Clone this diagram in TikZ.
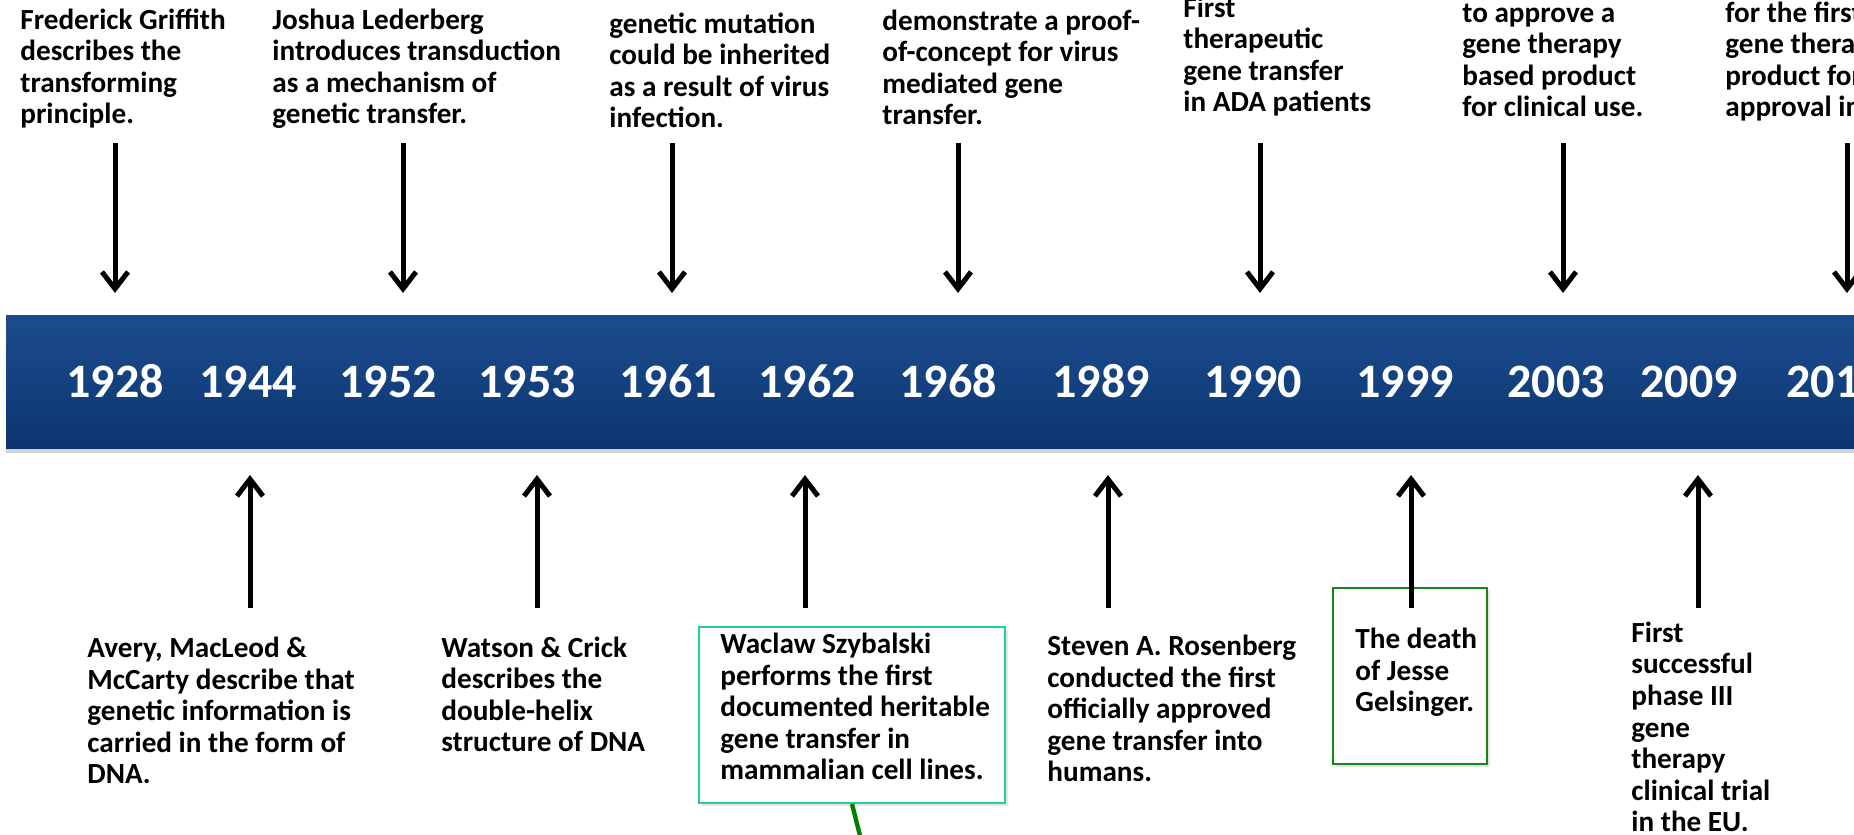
\documentclass[tikz,border=0pt]{standalone}
\usepackage{fontspec}
\setmainfont{Carlito}
\usetikzlibrary{arrows.meta, shadows}

\definecolor{bandtop}{RGB}{28,76,142}
\definecolor{bandbottom}{RGB}{12,53,112}
\definecolor{tealline}{RGB}{36,204,150}
\definecolor{greenline}{RGB}{20,138,20}
\definecolor{linkgreen}{RGB}{0,128,0}

\begin{document}
\begin{tikzpicture}[x=0.5pt, y=0.5pt,
        event/.style={anchor=base west, align=left, inner sep=0pt, font=\bfseries\fontsize{14.6}{15.8}\selectfont},
        year/.style={anchor=base, text=white, inner sep=0pt, font=\bfseries\fontsize{24}{24}\selectfont},
        arrow/.style={-{Straight Barb[length=8.5pt, width=13pt]}, line width=2.5pt},
        frame/.style={draw, line width=1pt, fill=white, inner sep=0pt, minimum height=88pt, drop shadow={opacity=0.2, shadow xshift=1.5pt, shadow yshift=-1.5pt}}
    ]
    \useasboundingbox (0,0) rectangle (1854,835);
    \clip (0,0) rectangle (1854,835);
    \fill[white] (0,0) rectangle (1854,835);

    % band with the years
    \node[inner sep=0pt, minimum width=932pt, minimum height=66.5pt, top color=bandtop, bottom color=bandbottom, drop shadow={opacity=0.35, shadow xshift=0pt, shadow yshift=-2pt}] (band) at (938,452.5) {};
    \node[year] (y1928) at (115,437) {1928};
    \node[year] (y1944) at (248,437) {1944};
    \node[year] (y1952) at (388,437) {1952};
    \node[year] (y1953) at (527,437) {1953};
    \node[year] (y1961) at (668,437) {1961};
    \node[year] (y1962) at (807,437) {1962};
    \node[year] (y1968) at (948,437) {1968};
    \node[year] (y1989) at (1101,437) {1989};
    \node[year] (y1990) at (1253,437) {1990};
    \node[year] (y1999) at (1405,437) {1999};
    \node[year] (y2003) at (1556,437) {2003};
    \node[year] (y2009) at (1689,437) {2009};
    \node[year, anchor=base west] (y201) at (1786,437) {201};

    % events above the band (placed by their last line)
    \node[event] (griffith) at (20,711) {Frederick Griffith\\describes the\\transforming\\principle.};
    \node[event] (lederberg) at (272,711) {Joshua Lederberg\\introduces transduction\\as a mechanism of\\genetic transfer.};
    \node[event] (mutation) at (609,707) {genetic mutation\\could be inherited\\as a result of virus\\infection.};
    \node[event] (proof) at (882,710) {demonstrate a proof-\\of-concept for virus\\mediated gene\\transfer.};
    \node[event] (ada) at (1183,723) {First\\therapeutic\\gene transfer\\in ADA patients};
    \node[event] (approve) at (1462,718) {to approve a\\gene therapy\\based product\\for clinical use.};
    \node[event] (eu) at (1725,718) {for the first\\gene therapy\\product for\\approval in};

    % events below the band
    \node[frame, draw=tealline, minimum width=153pt] (box1962) at (852,120) {};
    \node[frame, draw=greenline, minimum width=77pt] (box1999) at (1410,159) {};
    \node[event] (avery) at (87,51) {Avery, MacLeod \&\\McCarty describe that\\genetic information is\\carried in the form of\\DNA.};
    \node[event] (watson) at (441,83) {Watson \& Crick\\describes the\\double-helix\\structure of DNA};
    \node[event] (szybalski) at (720,55) {Waclaw Szybalski\\performs the first\\documented heritable\\gene transfer in\\mammalian cell lines.};
    \node[event] (rosenberg) at (1047,53) {Steven A. Rosenberg\\conducted the first\\officially approved\\gene transfer into\\humans.};
    \node[event] (gelsinger) at (1355,123) {The death\\of Jesse\\Gelsinger.};
    \node[event] (phase) at (1631,3) {First\\successful\\phase III\\gene\\therapy\\clinical trial\\in the EU.};

    % arrow ends
    \coordinate (from1928) at (115,692);  \coordinate (to1928) at (115,542);
    \coordinate (from1952) at (403,692);  \coordinate (to1952) at (403,542);
    \coordinate (from1961) at (672,692);  \coordinate (to1961) at (672,542);
    \coordinate (from1968) at (958,692);  \coordinate (to1968) at (958,542);
    \coordinate (from1990) at (1260,692); \coordinate (to1990) at (1260,542);
    \coordinate (from2003) at (1563,692); \coordinate (to2003) at (1563,542);
    \coordinate (from201) at (1847,692);  \coordinate (to201) at (1847,542);
    \coordinate (from1944) at (250,227);  \coordinate (to1944) at (250,360);
    \coordinate (from1953) at (537,227);  \coordinate (to1953) at (537,360);
    \coordinate (from1962) at (805,227);  \coordinate (to1962) at (805,360);
    \coordinate (from1989) at (1108,227); \coordinate (to1989) at (1108,360);
    \coordinate (from1999) at (1411,227); \coordinate (to1999) at (1411,360);
    \coordinate (from2009) at (1698,227); \coordinate (to2009) at (1698,360);
    \coordinate (linkend) at (870,-40);

    \draw[arrow] (from1928) -- (to1928);
    \draw[arrow] (from1952) -- (to1952);
    \draw[arrow] (from1961) -- (to1961);
    \draw[arrow] (from1968) -- (to1968);
    \draw[arrow] (from1990) -- (to1990);
    \draw[arrow] (from2003) -- (to2003);
    \draw[arrow] (from201) -- (to201);
    \draw[arrow] (from1944) -- (to1944);
    \draw[arrow] (from1953) -- (to1953);
    \draw[arrow] (from1962) -- (to1962);
    \draw[arrow] (from1989) -- (to1989);
    \draw[arrow] (from1999) -- (to1999);
    \draw[arrow] (from2009) -- (to2009);
    \draw[linkgreen, line width=2.2pt] (box1962.south) -- (linkend);
\end{tikzpicture}
\end{document}
